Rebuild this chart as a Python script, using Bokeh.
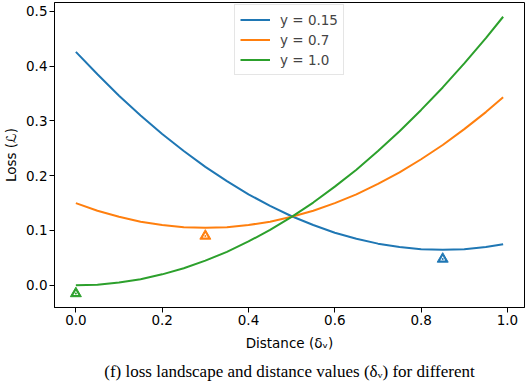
from bokeh.plotting import figure
from bokeh.models import Range1d, Legend, LegendItem, Title, FixedTicker, ColumnDataSource, NumeralTickFormatter
from bokeh.embed import file_html
from bokeh.resources import INLINE

# distance values (x)
dist = [0.00, 0.05, 0.10, 0.15, 0.20, 0.25, 0.30, 0.35, 0.40, 0.45, 0.50,
        0.55, 0.60, 0.65, 0.70, 0.75, 0.80, 0.85, 0.90, 0.95, 0.99]
loss_y015 = [0.426, 0.385, 0.346, 0.310, 0.276, 0.245, 0.216, 0.190, 0.166, 0.145, 0.126,
             0.110, 0.096, 0.085, 0.076, 0.070, 0.066, 0.065, 0.066, 0.070, 0.075]
loss_y07 = [0.150, 0.136, 0.125, 0.116, 0.110, 0.106, 0.105, 0.106, 0.110, 0.116, 0.125,
            0.136, 0.150, 0.166, 0.185, 0.206, 0.230, 0.256, 0.285, 0.316, 0.343]
loss_y10 = [0.000, 0.001, 0.005, 0.011, 0.020, 0.031, 0.045, 0.061, 0.080, 0.101, 0.125,
            0.151, 0.180, 0.211, 0.245, 0.281, 0.320, 0.361, 0.405, 0.451, 0.490]
series_labels = ["y = 0.15", "y = 0.7", "y = 1.0"]
colors = ["#1f77b4", "#ff7f0e", "#2ca02c"]
marker_x = [0.85, 0.30, 0.00]
marker_y = [0.048, 0.090, -0.015]
x_ticks = [0.0, 0.2, 0.4, 0.6, 0.8, 1.0]
y_ticks = [0.0, 0.1, 0.2, 0.3, 0.4, 0.5]
caption_text = "(f) loss landscape and distance values (δᵥ) for different"

FONT = "DejaVu Sans"
FS = "13.5px"

p = figure(width=528, height=386, output_backend="svg", toolbar_location=None,
           x_range=Range1d(-0.0495, 1.0395), y_range=Range1d(-0.0405, 0.516),
           min_border_top=2, min_border_right=4, min_border_left=43, min_border_bottom=78)
p.grid.visible = False
p.outline_line_color = "black"
p.outline_line_width = 1
p.background_fill_color = "white"
p.border_fill_color = "white"

for ax in (p.xaxis[0], p.yaxis[0]):
    ax.major_tick_in = 0
    ax.major_tick_out = 5
    ax.minor_tick_line_color = None
    ax.axis_line_color = "black"
    ax.major_tick_line_color = "black"
    ax.major_label_text_font = FONT
    ax.major_label_text_font_size = FS
    ax.major_label_text_color = "black"
    ax.axis_label_text_font = FONT
    ax.axis_label_text_font_size = FS
    ax.axis_label_text_font_style = "normal"
    ax.axis_label_text_color = "black"
    ax.major_label_standoff = 2
    ax.formatter = NumeralTickFormatter(format="0.0")

p.xaxis[0].ticker = FixedTicker(ticks=x_ticks)
p.yaxis[0].ticker = FixedTicker(ticks=y_ticks)
p.xaxis[0].axis_label = "Distance (δᵥ)"
p.yaxis[0].axis_label = "Loss (ℒ)"
p.xaxis[0].axis_label_standoff = 7
p.yaxis[0].axis_label_standoff = 4

items = []
for vals, lab, c in zip([loss_y015, loss_y07, loss_y10], series_labels, colors):
    r = p.line(dist, vals, line_color=c, line_width=2)
    items.append(LegendItem(label=lab, renderers=[r]))

src = ColumnDataSource(dict(x=marker_x, y=marker_y, c=colors))
p.scatter("x", "y", source=src, marker="triangle", size=11, fill_color="c", line_color="c", line_width=1)
p.scatter("x", "y", source=src, marker="triangle", size=5, fill_color="white", line_color=None)
p.scatter("x", "y", source=src, marker="circle", size=2, fill_color="c", line_color=None)

legend = Legend(items=items, location=(180, 232), orientation="vertical",
                label_text_font=FONT, label_text_font_size=FS,
                glyph_width=30, glyph_height=19, label_height=19, label_standoff=10,
                spacing=1, padding=5, margin=0,
                border_line_color="#cccccc", border_line_width=1,
                background_fill_color="white", background_fill_alpha=0.8)
p.add_layout(legend, "center")

caption = Title(text=caption_text, text_font="Liberation Serif", text_font_size="17px",
                text_font_style="normal", text_color="black", align="center",
                standoff=12, offset=0)
p.add_layout(caption, "below")

open("out.html", "w").write(file_html(p, INLINE))
